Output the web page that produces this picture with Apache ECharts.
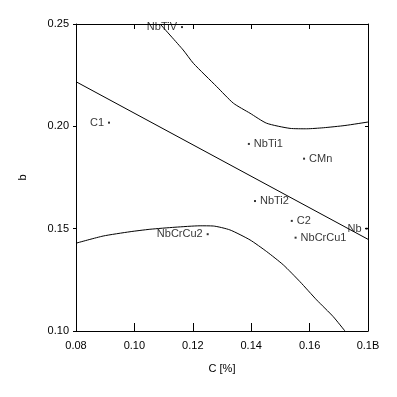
<!DOCTYPE html>
<html>
<head>
<meta charset="utf-8">
<script src="https://cdn.jsdelivr.net/npm/echarts@6/dist/echarts.min.js"></script>
<style>
  html, body { margin: 0; padding: 0; background: #fff; }
  #chart { width: 397px; height: 397px; }
</style>
</head>
<body>
<div id="chart"></div>
<script>
// tick labels
var xTicks = [0.08, 0.10, 0.12, 0.14, 0.16, 0.18]
var xTickLabels = ['0.08', '0.10', '0.12', '0.14', '0.16', '0.1B']
var yTickLabels = ['0.10', '0.15', '0.20', '0.25']

// steels: name, C [%], b
var steelNames = ['NbTiV', 'C1', 'NbTi1', 'CMn', 'NbTi2', 'C2', 'NbCrCu1', 'Nb', 'NbCrCu2']
var steelC = [0.1163, 0.0913, 0.1392, 0.1581, 0.1413, 0.1539, 0.1552, 0.1795, 0.1251]
var steelB = [0.2485, 0.2018, 0.1914, 0.1842, 0.1635, 0.1538, 0.1456, 0.1500, 0.1473]
var labelSide = ['left', 'left', 'right', 'right', 'right', 'right', 'right', 'left', 'left']

// regression line
var lineC = [0.08, 0.18]
var lineB = [0.2218, 0.1448]

// upper curve
var upperC = [0.1088, 0.1167, 0.1202, 0.1282, 0.1339, 0.1396, 0.1453, 0.1533, 0.1590, 0.1647, 0.1721, 0.1800]
var upperB = [0.2500, 0.2373, 0.2308, 0.2194, 0.2113, 0.2064, 0.2015, 0.1990, 0.1988, 0.1993, 0.2004, 0.2021]

// lower curve
var lowerC = [0.0800, 0.0893, 0.0985, 0.1053, 0.1139, 0.1225, 0.1270, 0.1327, 0.1396, 0.1453, 0.1510, 0.1567, 0.1624, 0.1681, 0.1721]
var lowerB = [0.1429, 0.1464, 0.1485, 0.1497, 0.1507, 0.1514, 0.1513, 0.1494, 0.1445, 0.1388, 0.1323, 0.1241, 0.1152, 0.1070, 0.1000]

function pairs(xs, ys) {
  return xs.map(function (x, i) { return [x, ys[i]] })
}

var font = 'Liberation Sans'
var chart = echarts.init(document.getElementById('chart'))

var lineStyle = { color: '#000', width: 1 }

chart.setOption({
  animation: false,
  textStyle: { fontFamily: font },
  grid: { left: 76, top: 24, width: 292, height: 307 },
  xAxis: [
    {
      type: 'value',
      min: 0.08,
      max: 0.18,
      interval: 0.02,
      name: 'C [%]',
      nameLocation: 'middle',
      nameGap: 32,
      nameTextStyle: { color: '#000', fontSize: 11, fontFamily: font },
      axisLine: { lineStyle: { color: '#000' } },
      axisTick: { inside: true, length: 8, lineStyle: { color: '#000' } },
      axisLabel: {
        color: '#000',
        fontSize: 11,
        margin: 9,
        formatter: function (v) {
          var i = xTicks.findIndex(function (t) { return Math.abs(t - v) < 1e-6 })
          return i >= 0 ? xTickLabels[i] : ''
        }
      },
      splitLine: { show: false }
    },
    {
      type: 'value',
      position: 'top',
      min: 0.08,
      max: 0.18,
      interval: 0.02,
      axisLine: { show: true, lineStyle: { color: '#000' } },
      axisTick: { inside: true, length: 5, lineStyle: { color: '#000' } },
      axisLabel: { show: false },
      splitLine: { show: false }
    }
  ],
  yAxis: [
    {
      type: 'value',
      min: 0.10,
      max: 0.25,
      interval: 0.05,
      name: 'b',
      nameLocation: 'middle',
      nameRotate: 90,
      nameGap: 48,
      nameTextStyle: { color: '#000', fontSize: 11, fontFamily: font },
      axisLine: { show: true, lineStyle: { color: '#000' } },
      axisTick: { inside: false, length: 3, lineStyle: { color: '#000' } },
      axisLabel: {
        color: '#000',
        fontSize: 11,
        margin: 7,
        formatter: function (v) {
          var i = Math.round((v - 0.10) / 0.05)
          return yTickLabels[i] || ''
        }
      },
      splitLine: { show: false }
    },
    {
      type: 'value',
      position: 'right',
      min: 0.10,
      max: 0.25,
      interval: 0.05,
      axisLine: { show: true, lineStyle: { color: '#000' } },
      axisTick: { inside: true, length: 3, lineStyle: { color: '#000' } },
      axisLabel: { show: false },
      splitLine: { show: false }
    }
  ],
  series: [
    {
      type: 'line',
      data: pairs(lineC, lineB),
      symbol: 'none',
      lineStyle: lineStyle,
      silent: true
    },
    {
      type: 'line',
      data: pairs(upperC, upperB),
      symbol: 'none',
      smooth: 0.2,
      lineStyle: lineStyle,
      silent: true
    },
    {
      type: 'line',
      data: pairs(lowerC, lowerB),
      symbol: 'none',
      smooth: 0.2,
      lineStyle: lineStyle,
      silent: true
    },
    {
      type: 'scatter',
      symbol: 'rect',
      symbolSize: 2,
      itemStyle: { color: '#000' },
      data: steelNames.map(function (n, i) {
        return {
          name: n,
          value: [steelC[i], steelB[i]],
          label: { position: labelSide[i] }
        }
      }),
      label: {
        show: true,
        formatter: '{b}',
        color: '#000',
        fontSize: 11,
        fontFamily: font,
        distance: 4
      }
    }
  ]
})
</script>
</body>
</html>
